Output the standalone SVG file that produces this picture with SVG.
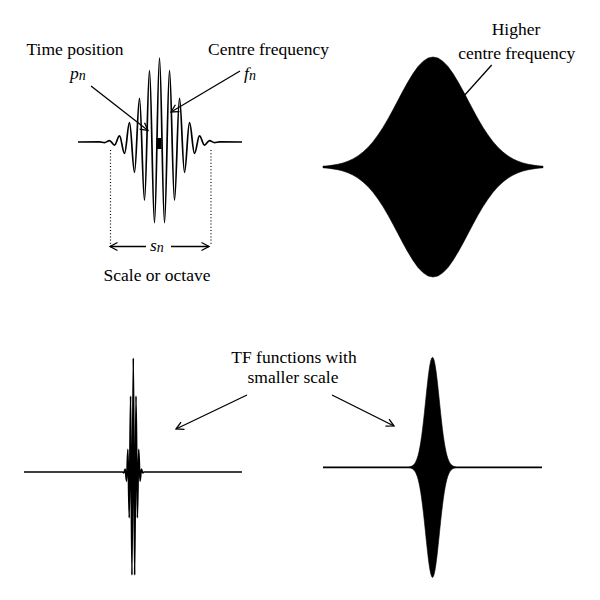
<svg xmlns="http://www.w3.org/2000/svg" width="600" height="600" viewBox="0 0 600 600">
<style>
text{font-family:"Liberation Serif","Times New Roman",serif;font-size:17.5px;fill:#000}
.it{font-style:italic}
.wave{fill:none;stroke:#000;stroke-width:1.7;stroke-linejoin:round;stroke-linecap:butt}
.base{fill:none;stroke:#000;stroke-width:1.8}
.solid{fill:#000;stroke:#000;stroke-width:0.6;stroke-linejoin:round}
.conn{fill:none;stroke:#000;stroke-width:1.3}
.dot{fill:none;stroke:#000;stroke-width:1.2;stroke-dasharray:1 2.2}
</style>
<defs>
<marker id="arr" markerUnits="userSpaceOnUse" markerWidth="12" markerHeight="12" viewBox="0 0 12 12" refX="10" refY="6" orient="auto">
<path d="M2.5,2 L10,6 L2.5,10" fill="none" stroke="#000" stroke-width="1.3"/>
</marker>
</defs>
<rect width="600" height="600" fill="#fff"/>

<g id="wavelet-original">
<path class="wave" d="M78,142 L99.5,141.8 C101.32,141.8 102.68,142.6 104.5,142.6 S107.68,140.6 109.5,140.6 S112.68,145.1 114.5,145.1 S117.68,135.9 119.5,135.9 S122.68,153.4 124.5,153.4 S127.68,122.7 129.5,122.7 S132.68,172.3 134.5,172.3 S137.68,98.3 139.5,98.3 S142.68,200.2 144.5,200.2 S147.68,70.7 149.5,70.7 S152.68,222.7 154.5,222.7 S157.68,58 159.5,58 S162.68,222.7 164.5,222.7 S167.68,70.7 169.5,70.7 S172.68,200.2 174.5,200.2 S177.68,98.3 179.5,98.3 S182.68,172.3 184.5,172.3 S187.68,122.7 189.5,122.7 S192.68,153.4 194.5,153.4 S197.68,135.9 199.5,135.9 S202.68,145.1 204.5,145.1 S207.68,140.6 209.5,140.6 S212.68,142.6 214.5,142.6 S217.68,141.8 219.5,141.8 L242,142"/>
<rect x="156.5" y="138" width="5" height="11" fill="#000"/>
</g>

<g id="wavelet-high-freq">
<line class="base" x1="323" y1="167" x2="543" y2="167"/>
<path class="solid" d="M323,166.2 L328,165.8 333,165.1 338,164.2 343,163 348,161.2 353,158.9 358,155.9 363,152.1 368,147.4 373,141.7 378,135 383,127.4 388,118.9 393,109.8 398,100.3 403,90.8 408,81.8 413,73.6 418,66.6 423,61.4 428,58.1 433,57 438,58.1 443,61.4 448,66.6 453,73.6 458,81.8 463,90.8 468,100.3 473,109.8 478,118.9 483,127.4 488,135 493,141.7 498,147.4 503,152.1 508,155.9 513,158.9 518,161.2 523,163 528,164.2 533,165.1 538,165.8 543,166.2 L543,167.8 538,168.2 533,168.9 528,169.8 523,171 518,172.8 513,175.1 508,178.1 503,181.9 498,186.6 493,192.3 488,199 483,206.6 478,215.1 473,224.2 468,233.7 463,243.2 458,252.2 453,260.4 448,267.4 443,272.6 438,275.9 433,277 428,275.9 423,272.6 418,267.4 413,260.4 408,252.2 403,243.2 398,233.7 393,224.2 388,215.1 383,206.6 378,199 373,192.3 368,186.6 363,181.9 358,178.1 353,175.1 348,172.8 343,171 338,169.8 333,168.9 328,168.2 323,167.8 Z"/>
</g>

<g id="wavelet-small-scale">
<path class="wave" stroke-width="1.5" d="M24,472 L122.5,472 C122.99,472 123.36,472.8 123.85,472.8 S124.71,469 125.2,469 S126.06,481.1 126.55,481.1 S127.41,449.4 127.9,449.4 S128.76,517.8 129.25,517.8 S130.11,396 130.6,396 S131.46,575 131.95,575 S132.81,358 133.3,358 S134.16,575 134.65,575 S135.51,396 136,396 S136.86,517.8 137.35,517.8 S138.21,449.4 138.7,449.4 S139.56,481.1 140.05,481.1 S140.91,469 141.4,469 S142.26,472.8 142.75,472.8 S143.61,472 144.1,472 L242,472"/>
</g>

<g id="wavelet-small-scale-high-freq">
<line class="base" x1="323" y1="467.3" x2="542" y2="467.3"/>
<path class="solid" d="M409.1,467.1 L410.9,466.6 412.7,465.6 414.5,463.9 415.4,462.5 416.3,460.6 417.2,458.3 418.1,455.3 419,451.6 419.9,447.1 420.8,441.8 421.7,435.7 422.6,428.7 423.5,421 424.4,412.8 425.3,404.1 426.2,395.3 427.1,386.8 428,378.7 428.9,371.5 429.8,365.5 430.7,361 431.6,358.2 432.5,357.3 433.4,358.2 434.3,361 435.2,365.5 436.1,371.5 437,378.7 437.9,386.8 438.8,395.3 439.7,404.1 440.6,412.8 441.5,421 442.4,428.7 443.3,435.7 444.2,441.8 445.1,447.1 446,451.6 446.9,455.3 447.8,458.3 448.7,460.6 449.6,462.5 450.5,463.9 452.3,465.6 454.1,466.6 455.9,467.1 L455.9,467.5 454.1,468 452.3,469 450.5,470.7 449.6,472.1 448.7,474 447.8,476.3 446.9,479.3 446,483 445.1,487.5 444.2,492.8 443.3,498.9 442.4,505.9 441.5,513.6 440.6,521.8 439.7,530.5 438.8,539.3 437.9,547.8 437,555.9 436.1,563.1 435.2,569.1 434.3,573.6 433.4,576.4 432.5,577.6 431.6,576.4 430.7,573.6 429.8,569.1 428.9,563.1 428,555.9 427.1,547.8 426.2,539.3 425.3,530.5 424.4,521.8 423.5,513.6 422.6,505.9 421.7,498.9 420.8,492.8 419.9,487.5 419,483 418.1,479.3 417.2,476.3 416.3,474 415.4,472.1 414.5,470.7 412.7,469 410.9,468 409.1,467.5 Z"/>
</g>

<g id="connectors">
<line class="conn" x1="91" y1="86" x2="148" y2="130.5" marker-end="url(#arr)"/>
<line class="conn" x1="240" y1="71" x2="171" y2="112" marker-end="url(#arr)"/>
<line class="dot" x1="110.5" y1="150" x2="110.5" y2="246"/>
<line class="dot" x1="211" y1="150" x2="211" y2="246"/>
<line class="conn" x1="146" y1="246.5" x2="110" y2="246.5" marker-end="url(#arr)"/>
<line class="conn" x1="171" y1="246.5" x2="209" y2="246.5" marker-end="url(#arr)"/>
<line class="conn" x1="491.7" y1="65" x2="463" y2="97"/>
<line class="conn" x1="247" y1="395" x2="176" y2="429" marker-end="url(#arr)"/>
<line class="conn" x1="332" y1="395" x2="394" y2="426" marker-end="url(#arr)"/>
</g>

<g id="labels">
<text x="75" y="55" text-anchor="middle">Time position</text>
<text class="it" x="70" y="79">p<tspan font-size="14" dy="1">n</tspan></text>
<text x="268.5" y="55" text-anchor="middle">Centre frequency</text>
<text class="it" x="244" y="79">f<tspan font-size="14" dy="1">n</tspan></text>
<text class="it" x="150" y="251">s<tspan font-size="14" dy="1">n</tspan></text>
<text x="157" y="281" text-anchor="middle">Scale or octave</text>
<text x="516" y="35" text-anchor="middle">Higher</text>
<text x="516.7" y="58.5" text-anchor="middle">centre frequency</text>
<text x="294" y="362.5" text-anchor="middle">TF functions with</text>
<text x="293" y="382.5" text-anchor="middle">smaller scale</text>
</g>
</svg>
